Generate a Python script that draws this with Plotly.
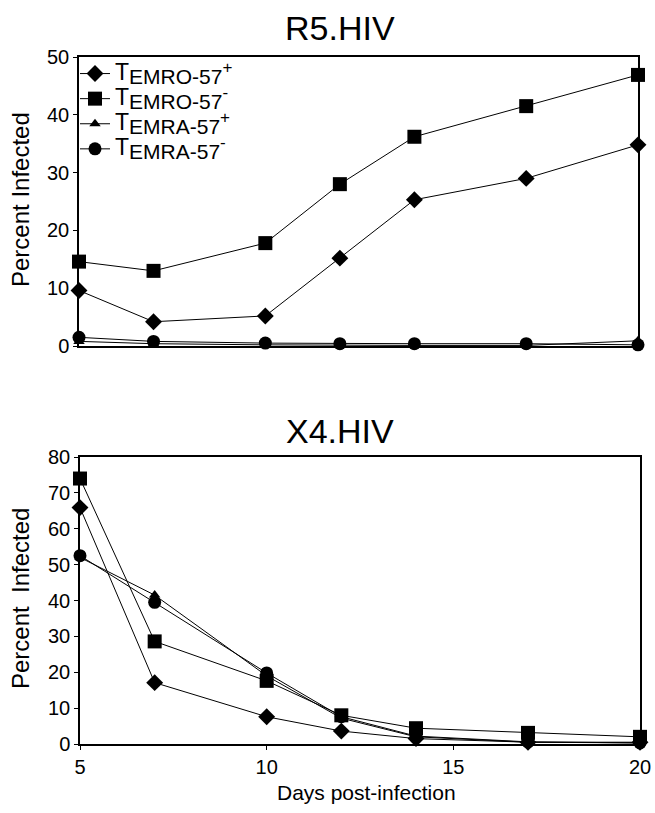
import plotly.graph_objects as go

days = [5, 7, 10, 12, 14, 17, 20]
series_names = [
    "<span style='font-size:23px'>T</span><sub><span style='font-size:21px'>EMRO-57</span></sub><sup><span style='font-size:17px'>+</span></sup>",
    "<span style='font-size:23px'>T</span><sub><span style='font-size:21px'>EMRO-57</span></sub><sup><span style='font-size:17px'>-</span></sup>",
    "<span style='font-size:23px'>T</span><sub><span style='font-size:21px'>EMRA-57</span></sub><sup><span style='font-size:17px'>+</span></sup>",
    "<span style='font-size:23px'>T</span><sub><span style='font-size:21px'>EMRA-57</span></sub><sup><span style='font-size:17px'>-</span></sup>",
]
symbols = ["diamond", "square", "triangle-up", "circle"]
sizes = [13, 14, 10, 13]

r5_emro_pos = [9.6, 4.2, 5.2, 15.2, 25.3, 29.0, 34.8]
r5_emro_neg = [14.6, 13.0, 17.8, 28.0, 36.2, 41.5, 46.9]
r5_emra_pos = [0.8, 0.4, 0.2, 0.1, 0.1, 0.1, 0.9]
r5_emra_neg = [1.5, 0.8, 0.5, 0.4, 0.4, 0.4, 0.2]

x4_emro_pos = [65.9, 17.1, 7.6, 3.6, 1.5, 0.5, 0.5]
x4_emro_neg = [74.0, 28.6, 17.6, 8.0, 4.4, 3.1, 2.0]
x4_emra_pos = [52.0, 41.5, 19.0, 7.2, 2.0, 0.5, 0.3]
x4_emra_neg = [52.5, 39.5, 19.8, 7.6, 2.2, 0.6, 0.3]

r5 = [r5_emro_pos, r5_emro_neg, r5_emra_pos, r5_emra_neg]
x4 = [x4_emro_pos, x4_emro_neg, x4_emra_pos, x4_emra_neg]

W, H = 655, 813
FONT = "Arial, Liberation Sans, sans-serif"

fig = go.Figure()
for i in range(4):
    fig.add_trace(go.Scatter(
        x=days, y=r5[i], name=series_names[i], mode="lines+markers",
        line=dict(color="black", width=1),
        marker=dict(symbol=symbols[i], size=sizes[i], color="black"),
        xaxis="x", yaxis="y", showlegend=True, cliponaxis=False))
for i in range(4):
    fig.add_trace(go.Scatter(
        x=days, y=x4[i], name=series_names[i], mode="lines+markers",
        line=dict(color="black", width=1),
        marker=dict(symbol=symbols[i], size=sizes[i], color="black"),
        xaxis="x2", yaxis="y2", showlegend=False, cliponaxis=False))

def px_x(p):
    return p / W

def px_y(p):
    return 1 - p / H

axis_common = dict(showgrid=False, zeroline=False, showline=True, linecolor="black",
                   linewidth=1.5, mirror=True, ticklen=4, automargin=False,
                   tickcolor="black", tickfont=dict(family=FONT, size=20, color="black"))

def label(text, x, y, size, angle=0):
    return dict(text=text, x=px_x(x), y=px_y(y), xref="paper", yref="paper",
                xanchor="center", yanchor="middle", showarrow=False, textangle=angle,
                font=dict(family=FONT, size=size, color="black"))

fig.update_layout(
    template="none",
    width=W, height=H, margin=dict(l=0, r=0, t=0, b=0, pad=0),
    paper_bgcolor="white", plot_bgcolor="white",
    font=dict(family=FONT, color="black"),
    xaxis=dict(domain=[px_x(79), px_x(638)], range=[5, 20], anchor="y",
               showticklabels=False, ticks="", **axis_common),
    yaxis=dict(domain=[px_y(346), px_y(57)], range=[0, 50], dtick=10, anchor="x",
               ticks="outside", **axis_common),
    xaxis2=dict(domain=[px_x(80), px_x(640)], range=[5, 20], dtick=5, anchor="y2",
                ticks="outside", **axis_common),
    yaxis2=dict(domain=[px_y(744), px_y(457)], range=[0, 80], dtick=10, anchor="x2",
                ticks="outside", **axis_common),
    legend=dict(x=px_x(75), y=px_y(56), xanchor="left", yanchor="top",
                bgcolor="rgba(0,0,0,0)", font=dict(family=FONT, size=17, color="black"),
                itemwidth=30, tracegroupgap=0),
    showlegend=True,
    annotations=[
        label("R5.HIV", 340, 28, 34),
        label("X4.HIV", 340, 431, 34),
        label("Percent Infected", 20, 200, 24, -90),
        label("Percent  Infected", 20, 599, 24, -90),
        label("Days post-infection", 366, 792, 21),
    ],
)

fig.write_html("out.html")
